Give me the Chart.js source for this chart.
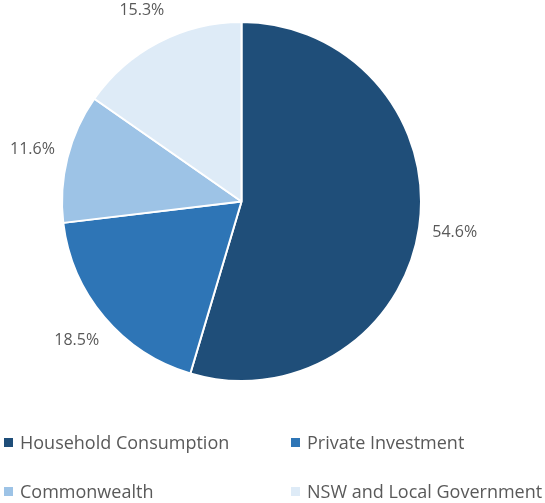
<!DOCTYPE html>
<html>
<head>
<meta charset="utf-8">
<script src="https://cdn.jsdelivr.net/npm/chart.js@4/dist/chart.umd.min.js"></script>
<style>
    html, body { margin: 0; padding: 0; background: #fff; }
    body { width: 545px; height: 503px; position: relative; overflow: hidden; font-family: 'Open Sans', sans-serif; }
    #pie-wrap { position: absolute; left: 0; top: 0; width: 545px; height: 410px; }
    #legend { position: absolute; left: 0; top: 0; width: 545px; height: 503px; pointer-events: none; }
    .legend-item { position: absolute; display: flex; align-items: center; color: #595959; font-size: 18px; white-space: nowrap; line-height: 22px; }
    .legend-item .swatch { width: 9px; height: 9px; margin-right: 7px; }
</style>
</head>
<body>
<div id="pie-wrap"><canvas id="pie"></canvas></div>
<div id="legend"></div>
<script>
// Share of spending by sector, clockwise from 12 o'clock
const categories = ['Household Consumption', 'Private Investment', 'Commonwealth', 'NSW and Local Government'];
const shares = [54.6, 18.5, 11.6, 15.3];
const sliceColours = ['#1F4E79', '#2E75B6', '#9DC3E6', '#DEEBF7'];

const LABEL_GAP = 36;

// ---- Percent labels outside each slice ----------------------------------

const outsideLabels = {
    id: 'outsideLabels',
    afterDatasetsDraw(chart) {
        const ctx = chart.ctx;
        const meta = chart.getDatasetMeta(0);
        ctx.save();
        ctx.font = '16px "Open Sans", sans-serif';
        ctx.fillStyle = '#595959';
        ctx.textAlign = 'center';
        ctx.textBaseline = 'middle';
        meta.data.forEach((arc, i) => {
            const { x, y, startAngle, endAngle, outerRadius } =
                arc.getProps(['x', 'y', 'startAngle', 'endAngle', 'outerRadius'], true);
            const mid = (startAngle + endAngle) / 2;
            const r = outerRadius + LABEL_GAP;
            ctx.fillText(shares[i].toFixed(1) + '%', x + Math.cos(mid) * r, y + Math.sin(mid) * r);
        });
        ctx.restore();
    },
};

new Chart(document.getElementById('pie'), {
    type: 'pie',
    data: {
        labels: categories,
        datasets: [{
            data: shares,
            backgroundColor: sliceColours,
            borderColor: '#ffffff',
            borderWidth: 2,
        }],
    },
    options: {
        responsive: true,
        maintainAspectRatio: false,
        animation: false,
        layout: { padding: { left: 0, right: 62, top: 21, bottom: 28 } },
        plugins: {
            legend: { display: false },
            tooltip: { enabled: false },
        },
    },
    plugins: [outsideLabels],
});

// ---- Legend: two columns under the pie ----------------------------------

const legend = document.getElementById('legend');
categories.forEach((name, i) => {
    const item = document.createElement('div');
    item.className = 'legend-item';
    item.style.left = (i % 2 === 0 ? 4 : 291) + 'px';
    item.style.top = (431 + Math.floor(i / 2) * 49) + 'px';
    const swatch = document.createElement('span');
    swatch.className = 'swatch';
    swatch.style.background = sliceColours[i];
    const text = document.createElement('span');
    text.textContent = name;
    item.appendChild(swatch);
    item.appendChild(text);
    legend.appendChild(item);
});
</script>
</body>
</html>
